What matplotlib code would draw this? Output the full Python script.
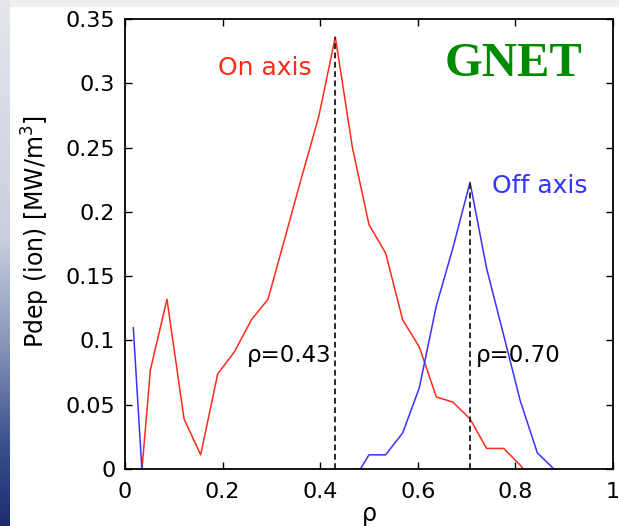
import numpy as np
import matplotlib
matplotlib.use('Agg')
import matplotlib.pyplot as plt
from matplotlib.colors import LinearSegmentedColormap

# radial grid (bin centres) and deposited ion power profiles
rho = [0.017, 0.052, 0.086, 0.121, 0.155, 0.190, 0.224, 0.259, 0.293,
       0.328, 0.362, 0.397, 0.431, 0.466, 0.500, 0.534, 0.569, 0.603,
       0.638, 0.672, 0.707, 0.741, 0.776, 0.810, 0.845, 0.879]

# on-axis heating (negative points fall below the axis and get clipped)
p_on = [-0.080, 0.077, 0.132, 0.039, 0.011, 0.074, 0.091, 0.116, 0.132,
        0.180, 0.227, 0.274, 0.336, 0.250, 0.190, 0.168, 0.116, 0.095,
        0.056, 0.052, 0.039, 0.016, 0.016, 0.003, -0.015, -0.010]

# off-axis heating
p_off = [0.110, -0.110, -0.010, -0.010, -0.010, -0.010, -0.010, -0.010, -0.010,
         -0.010, -0.010, -0.010, -0.010, -0.010, 0.011, 0.011, 0.028, 0.063,
         0.127, 0.172, 0.223, 0.156, 0.104, 0.053, 0.0125, 0.0]

xticks = [0, 0.2, 0.4, 0.6, 0.8, 1]
xticklabels = ['0', '0.2', '0.4', '0.6', '0.8', '1']
yticks = [0, 0.05, 0.1, 0.15, 0.2, 0.25, 0.3, 0.35]
yticklabels = ['0', '0.05', '0.1', '0.15', '0.2', '0.25', '0.3', '0.35']

plt.rcParams['font.family'] = ['DejaVu Sans']
plt.rcParams['mathtext.fontset'] = 'dejavusans'

W, H = 619, 526
fig = plt.figure(figsize=(W / 100, H / 100), dpi=100, facecolor='white')

# slide background: thin grey strip on top, blue gradient strip on the left
top = fig.add_axes([0, 1 - 7 / H, 1, 7 / H])
top.set_axis_off()
top.add_patch(plt.Rectangle((0, 0), 1, 1, color='#efeff0', transform=top.transAxes))

side = fig.add_axes([0, 0, 10 / W, 1])
grad = LinearSegmentedColormap.from_list(
    'side', [(0.0, '#1e2d6e'), (0.15, '#3a4f8c'), (0.35, '#8a97bb'),
             (0.55, '#c9cfdd'), (1.0, '#e4e6ec')])
side.imshow(np.linspace(0, 1, 256).reshape(-1, 1), cmap=grad, aspect='auto',
            origin='lower', extent=[0, 1, 0, 1])
side.set_axis_off()

ax = fig.add_axes([125 / W, 1 - 469 / H, 488 / W, 450 / H])

ax.plot(rho, p_on, color='#ff2a1a', lw=1.1)
ax.plot(rho, p_off, color='#3434ff', lw=1.1)

# peak markers
i_on = int(np.argmax(p_on))
i_off = int(np.argmax(p_off))
ax.vlines(rho[i_on], 0, p_on[i_on], colors='#2a2a2a', lw=1.4,
          linestyles=(0, (3, 1.8)))
ax.vlines(rho[i_off], 0, p_off[i_off], colors='#2a2a2a', lw=1.4,
          linestyles=(0, (3, 1.8)))

ax.text(0.19, 0.312, 'On axis', color='#ff2a1a', fontsize=18, va='center')
ax.text(0.752, 0.220, 'Off axis', color='#3434ff', fontsize=18, va='center')
ax.text(0.25, 0.088, '\u03c1=0.43', color='black', fontsize=16.5, va='center')
ax.text(0.72, 0.088, '\u03c1=0.70', color='black', fontsize=16.5, va='center')
ax.text(0.796, 0.315, 'GNET', color='#008a00', fontsize=35, fontweight='bold',
        family='Liberation Serif', ha='center', va='center')

ax.set_xlim(0, 1)
ax.set_ylim(0, 0.35)
ax.set_xticks(xticks)
ax.set_xticklabels(xticklabels)
ax.set_yticks(yticks)
ax.set_yticklabels(yticklabels)
ax.tick_params(direction='in', length=5, width=1, top=True, right=True,
               labelsize=16, colors='black')
ax.tick_params(axis='x', pad=9)
ax.tick_params(axis='y', pad=7)
for sp in ax.spines.values():
    sp.set_linewidth(1.3)

ax.set_xlabel('\u03c1', fontsize=17, labelpad=0)
ax.set_ylabel('Pdep (ion) [MW/m$^3$]', fontsize=17)
ax.yaxis.set_label_coords(-0.149, 0.527)

fig.savefig('out.png', dpi=100, facecolor='white')
